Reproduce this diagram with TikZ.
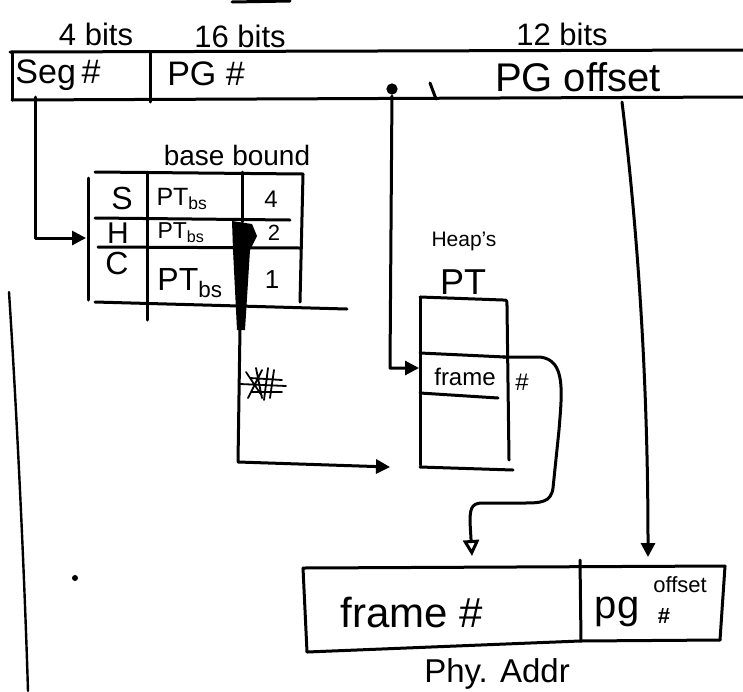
\documentclass[tikz,border=0pt]{standalone}
\usepackage{fontspec}
\setmainfont{Liberation Sans}
\usetikzlibrary{arrows.meta}
\begin{document}
\begin{tikzpicture}[x=1pt,y=-1pt, line width=3pt, line cap=round, line join=round,
  fs/.style={font=\fontsize{#1}{#1}\selectfont, inner sep=0pt},
  arr/.style={-{Triangle[length=14pt,width=14pt]}},
  openarr/.style={-{Triangle[open,length=16pt,width=16pt]}},
  scrib/.style={line width=1.8pt}]
\useasboundingbox (0,0) rectangle (743,691);

% underline at top
\draw (232,2) -- (290,1);

% bit widths
\node[fs=31] (b4) at (96,34) {4 bits};
\node[fs=31] (b16) at (240,36) {16 bits};
\node[fs=31] (b12) at (562,34) {12 bits};

% virtual address bar
\draw (10,52) -- (743,50);
\draw (12,53) -- (12,100);
\draw (12,100) -- (743,97);
\draw (150,52) -- (150,102);
\draw (430,83) -- (436,99);
\node[fs=34] (seg) at (58,75) {Seg\,\#};
\node[fs=34] (pg) at (206,74) {PG \#};
\node[fs=40] (off) at (578,77) {PG offset};

% segment table
\node[fs=28] (bb) at (237,155) {base bound};
\draw (95,172) -- (303,174);
\draw (88,178) -- (88,300);
\draw (147,172) -- (147,320);
\draw (242,172) -- (242,222);
\draw (303,174) -- (300,302);
\draw (95,218) -- (290,220);
\draw (98,247) -- (300,248);
\draw (95,302) -- (347,309);
\node[fs=32] (rS) at (122,198) {S};
\node[fs=25] (bS) at (182,199) {PT\textsubscript{bs}};
\node[fs=24] (nS) at (271,199) {4};
\node[fs=30] (rH) at (118,233) {H};
\node[fs=23] (bH) at (181,233) {PT\textsubscript{bs}};
\node[fs=22] (nH) at (274,233) {2};
\node[fs=32] (rC) at (117,263) {C};
\node[fs=32] (bC) at (190,283) {PT\textsubscript{bs}};
\node[fs=26] (nC) at (272,280) {1};

% seg# arrow into table
\coordinate (s0) at (35,97);
\coordinate (s1) at (86,238);
\draw[arr] (s0) |- (s1);

% blob + arrow to heap PT
\fill (232,221) -- (252,224) -- (257,236) -- (250,250) -- (245,330) -- (237,330) -- (233,250) -- cycle;
\coordinate (h0) at (240,328);
\coordinate (h1) at (238,462);
\coordinate (h2) at (390,467);
\draw[arr] (h0) -- (h1) -- (h2);
% scribble
\draw[scrib] (246,372) -- (262,396) (262,370) -- (248,398) (256,368) -- (262,398) (268,368) -- (264,400)
  (274,370) -- (270,398) (240,384) -- (286,386) (250,378) -- (282,380) (252,392) -- (282,392);

% heap's PT
\node[fs=21] (heap) at (464,241) {Heap's};
\node[fs=36] (pt) at (463,282) {PT};
\draw (420,297) -- (420,465);
\draw (420,297) -- (503,300) .. controls (507,300) .. (507,306) -- (509,460);
\draw (420,353) -- (505,357);
\draw (420,393) -- (498,398);
\draw (420,467) -- (513,470);
\node[fs=24] (frame) at (465,377) {frame};
\node[fs=24] (hash) at (522,382) {\#};

% PG# arrow into heap PT
\node[circle, fill, inner sep=4pt] (dot) at (392,89) {};
\coordinate (p1) at (390,368);
\coordinate (p2) at (419,368);
\draw[arr] (dot) -- (p1) -- (p2);

% frame # to physical address
\coordinate (f0) at (503,357);
\coordinate (f1) at (472,556);
\draw[openarr] (f0) -- (540,357) .. controls (566,360) and (562,392) .. (559,430) -- (553,488)
  .. controls (551,503) and (540,503) .. (522,503) -- (482,503) .. controls (471,503) and (470,510) .. (470,522) -- (f1);

% offset arrow
\coordinate (o0) at (622,102);
\coordinate (o1) at (648,557);
\draw[arr] (o0) .. controls (640,250) and (648,400) .. (o1);

% physical address
\draw (303,568) -- (725,566);
\draw (303,568) -- (307,652);
\draw (307,652) -- (580,641) -- (720,640);
\draw (580,560) -- (581,641);
\draw (725,566) -- (720,640);
\node[fs=42] (fr) at (412,612) {frame \#};
\node[fs=40] (pgo) at (617,612) {pg};
\node[fs=22] (offs) at (680,585) {offset};
\node[fs=22] (sc) at (664,616) {\textbf{\#}};
\node[fs=33] (phy) at (497,674) {Phy. Addr};

% left stroke and stray dot
\coordinate (l0) at (9,292);
\coordinate (l1) at (28,691);
\draw[line width=2.4pt] (l0) .. controls (16,400) and (24,560) .. (l1);
\fill (75,578) circle (3pt);
\end{tikzpicture}
\end{document}
